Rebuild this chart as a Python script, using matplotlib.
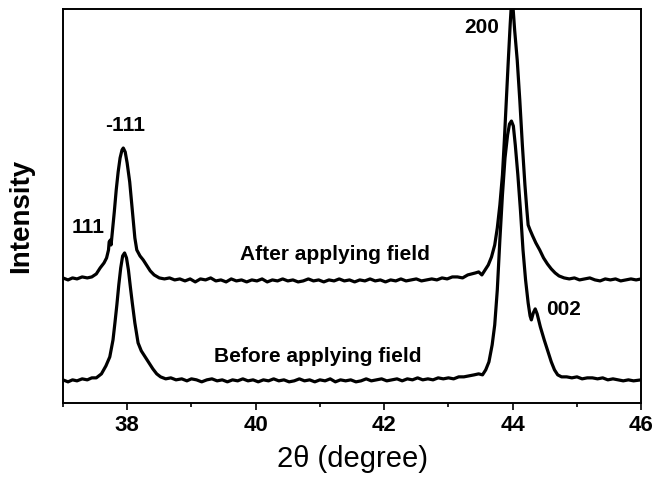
import numpy as np
import matplotlib
matplotlib.use("Agg")
import matplotlib.pyplot as plt

plt.rcParams['font.family'] = ['Liberation Sans', 'DejaVu Sans']

# 2theta (degree) and intensity (arbitrary units)
before_x = [37.0, 37.08, 37.15, 37.22, 37.3, 37.38, 37.45, 37.52, 37.6, 37.67,
            37.73, 37.78, 37.81, 37.84, 37.87, 37.9, 37.93, 37.96, 37.99, 38.02,
            38.05, 38.08, 38.12, 38.17, 38.22, 38.28, 38.34, 38.4, 38.46, 38.52,
            38.6, 38.68, 38.76, 38.85, 38.93, 39.0, 39.08, 39.16, 39.24, 39.32,
            39.4, 39.48, 39.56, 39.64, 39.72, 39.8, 39.88, 39.96, 40.04, 40.12,
            40.2, 40.28, 40.36, 40.44, 40.52, 40.6, 40.68, 40.76, 40.84, 40.92,
            41.0, 41.08, 41.16, 41.24, 41.32, 41.4, 41.48, 41.56, 41.64, 41.72,
            41.8, 41.88, 41.96, 42.04, 42.12, 42.2, 42.28, 42.36, 42.44, 42.52,
            42.6, 42.68, 42.76, 42.84, 42.92, 43.0, 43.08, 43.16, 43.24, 43.32,
            43.4, 43.47, 43.53, 43.58, 43.63, 43.68, 43.72, 43.76, 43.8, 43.84,
            43.88, 43.92, 43.95, 43.98, 44.01, 44.04, 44.08, 44.12, 44.16, 44.2,
            44.24, 44.27, 44.29, 44.32, 44.35, 44.38, 44.43, 44.49, 44.54, 44.6,
            44.65, 44.7, 44.76, 44.84, 44.92, 45.0, 45.08, 45.16, 45.24, 45.32,
            45.4, 45.48, 45.56, 45.64, 45.72, 45.8, 45.88, 46.0]
before_y = [23, 21, 23, 22, 24, 23, 25, 25, 29, 37,
            46, 63, 80, 98, 118, 135, 147, 150, 145, 133,
            116, 100, 80, 60, 52, 46, 40, 34, 29, 26,
            24, 25, 23, 24, 22, 24, 23, 21, 23, 24,
            22, 23, 21, 23, 22, 24, 22, 23, 21, 23,
            22, 24, 22, 23, 21, 22, 24, 22, 23, 21,
            23, 22, 24, 21, 23, 22, 23, 21, 22, 24,
            22, 23, 24, 22, 23, 24, 22, 24, 23, 25,
            23, 24, 23, 25, 24, 25, 24, 26, 26, 27,
            28, 29, 28, 33, 41, 58, 78, 113, 163, 208,
            245, 268, 279, 282, 277, 258, 228, 193, 153, 123,
            100, 87, 83, 90, 94, 89, 76, 63, 53, 41,
            33, 28, 26, 26, 25, 26, 24, 25, 25, 24,
            25, 23, 24, 23, 22, 23, 22, 23]

after_x = [37.0, 37.08, 37.15, 37.22, 37.3, 37.38, 37.45, 37.52, 37.58, 37.64,
           37.68, 37.71, 37.72, 37.74, 37.75, 37.77, 37.8, 37.83, 37.86, 37.89,
           37.92, 37.94, 37.97, 38.0, 38.04, 38.08, 38.12, 38.15, 38.2, 38.25,
           38.3, 38.36, 38.42, 38.5, 38.58, 38.66, 38.74, 38.82, 38.9, 38.98,
           39.06, 39.14, 39.22, 39.3, 39.38, 39.46, 39.54, 39.62, 39.7, 39.78,
           39.86, 39.94, 40.02, 40.1, 40.18, 40.26, 40.34, 40.42, 40.5, 40.58,
           40.66, 40.74, 40.82, 40.9, 40.98, 41.06, 41.14, 41.22, 41.3, 41.38,
           41.46, 41.54, 41.62, 41.7, 41.78, 41.86, 41.94, 42.02, 42.1, 42.18,
           42.26, 42.34, 42.42, 42.5, 42.58, 42.66, 42.74, 42.82, 42.9, 42.98,
           43.06, 43.14, 43.22, 43.3, 43.36, 43.42, 43.47, 43.52, 43.57, 43.62,
           43.67, 43.72, 43.76, 43.8, 43.84, 43.87, 43.9, 43.93, 43.96, 43.98,
           44.0, 44.03, 44.07, 44.11, 44.15, 44.19, 44.22, 44.24, 44.27, 44.31,
           44.36, 44.42, 44.48, 44.54, 44.6, 44.66, 44.72, 44.8, 44.88, 44.96,
           45.04, 45.12, 45.2, 45.28, 45.36, 45.44, 45.52, 45.6, 45.68, 45.76,
           45.84, 45.92, 46.0]
after_y = [125, 123, 125, 124, 126, 125, 126, 129, 135, 140,
           145, 153, 161, 163, 158, 171, 191, 213, 231, 245,
           253, 255, 251, 240, 221, 193, 165, 153, 147, 143,
           138, 132, 128, 125, 124, 125, 123, 124, 122, 124,
           121, 124, 123, 125, 122, 123, 121, 124, 122, 123,
           121, 123, 122, 124, 121, 123, 122, 124, 122, 123,
           121, 122, 124, 122, 123, 121, 123, 122, 124, 122,
           123, 121, 123, 122, 124, 122, 123, 121, 123, 122,
           124, 122, 123, 124, 122, 123, 124, 123, 125, 124,
           126, 126, 125, 128, 129, 130, 131, 128, 133, 138,
           146, 158, 175, 198, 228, 263, 303, 341, 378, 400,
           400, 373, 343, 303, 258, 218, 193, 178, 173, 167,
           160, 153, 145, 139, 134, 130, 127, 125, 124, 125,
           123, 124, 125, 123, 122, 124, 123, 124, 122, 123,
           124, 123, 124]

fig, ax = plt.subplots(figsize=(6.55, 4.79), dpi=100)
fig.subplots_adjust(left=0.096, right=0.979, top=0.981, bottom=0.159)

ax.plot(before_x, before_y, color='black', lw=2.3)
ax.plot(after_x, after_y, color='black', lw=2.3)

lab = dict(fontsize=15, fontweight='bold', ha='center', va='center')
ax.text(37.39, 175, "111", **lab)
ax.text(37.97, 278, "-111", **lab)
ax.text(43.52, 376, "200", **lab)
ax.text(44.79, 93, "002", **lab)
ax.text(41.24, 148, "After applying field", **lab)
ax.text(40.96, 46, "Before applying field", **lab)

ax.set_xlim(37, 46)
ax.set_ylim(0, 394)
ax.set_xticks([38, 40, 42, 44, 46])
ax.set_xticks([37, 39, 41, 43, 45], minor=True)
ax.set_yticks([])
ax.tick_params(axis='x', which='major', length=5, width=1.2, labelsize=16)
ax.tick_params(axis='x', which='minor', length=3, width=1.2)
for t in ax.get_xticklabels():
    t.set_fontweight('bold')
for s in ax.spines.values():
    s.set_linewidth(1.4)

ax.set_xlabel("2θ (degree)", fontsize=21, labelpad=7)
ax.set_ylabel("Intensity", fontsize=20, fontweight='bold')
ax.yaxis.set_label_coords(-0.05, 0.475)

fig.savefig("out.png", dpi=100)
